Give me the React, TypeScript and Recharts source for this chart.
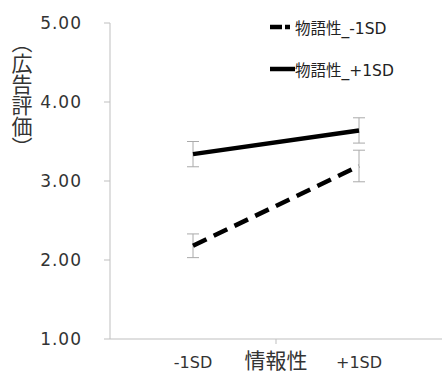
import React from 'react';
import { LineChart, Line, XAxis, YAxis, ErrorBar } from 'recharts';

const categories = ['-1SD', '+1SD'];
const xTitle = '情報性';
const yTitle = '（広告評価）';
const seriesNames = ['物語性_-1SD', '物語性_+1SD'];
const lowValues = [2.18, 3.19];
const lowErrors = [0.15, 0.2];
const highValues = [3.34, 3.64];
const highErrors = [0.16, 0.16];
const yTicks = [1, 2, 3, 4, 5];

const data = categories.map((c, i) => ({
  x: i + 0.5,
  cat: c,
  low: lowValues[i],
  lowErr: lowErrors[i],
  high: highValues[i],
  highErr: highErrors[i],
}));

const SANS = '"DejaVu Sans", Verdana, sans-serif';
const CJK = '"Noto Sans CJK JP", sans-serif';
const MIXED = '"DejaVu Sans", "Noto Sans CJK JP", sans-serif';

const XTick = (props: any) => {
  const { x, y, payload } = props;
  const v = payload.value;
  if (v === 1) {
    return (
      <g>
        <line x1={x} x2={x} y1={y} y2={y + 5} stroke="#bfbfbf" />
        <text x={x} y={y + 29} textAnchor="middle" fontSize={21} fill="#333" fontFamily={CJK}>
          {xTitle}
        </text>
      </g>
    );
  }
  const label = categories[Math.round(v - 0.5)];
  return (
    <text x={x} y={y + 29} textAnchor="middle" fontSize={16} fill="#333" fontFamily={SANS}>
      {label}
    </text>
  );
};

const LegendBox = () => (
  <div
    style={{
      position: 'absolute',
      left: 268,
      top: 17,
      fontFamily: MIXED,
      fontSize: 15.5,
      color: '#222',
      whiteSpace: 'nowrap',
    }}
  >
    <div style={{ display: 'flex', alignItems: 'center', height: 20 }}>
      <svg width={27} height={10}>
        <line x1={2} x2={22} y1={5} y2={5} stroke="#000" strokeWidth={4.5} strokeDasharray="12 3" />
      </svg>
      <span>{seriesNames[0]}</span>
    </div>
    <div style={{ display: 'flex', alignItems: 'center', height: 20, marginTop: 22 }}>
      <svg width={27} height={10}>
        <line x1={2} x2={27} y1={5} y2={5} stroke="#000" strokeWidth={4.5} />
      </svg>
      <span>{seriesNames[1]}</span>
    </div>
  </div>
);

export default function App() {
  return (
    <div style={{ position: 'absolute', left: 0, top: 0, width: 442, height: 374, background: '#fff' }}>
      <LineChart width={442} height={374} data={data} margin={{ top: 23, right: 0, bottom: 0, left: 0 }}>
        <XAxis
          type="number"
          dataKey="x"
          domain={[0, 2]}
          ticks={[0.5, 1, 1.5]}
          tickLine={false}
          tickSize={0}
          tickMargin={0}
          stroke="#bfbfbf"
          tick={<XTick />}
          height={35}
          interval={0}
        />
        <YAxis
          type="number"
          domain={[1, 5]}
          ticks={yTicks}
          width={110}
          tickSize={6}
          tickMargin={22}
          stroke="#bfbfbf"
          tickFormatter={(v: number) => v.toFixed(2)}
          tick={{ fill: '#333', fontSize: 17, fontFamily: SANS, letterSpacing: 1 }}
          interval={0}
        />
        <Line
          dataKey="low"
          name={seriesNames[0]}
          stroke="#000"
          strokeWidth={4.5}
          strokeDasharray="15 8"
          dot={false}
          isAnimationActive={false}
        >
          <ErrorBar dataKey="lowErr" width={6} stroke="#aaa" strokeWidth={1} direction="y" />
        </Line>
        <Line
          dataKey="high"
          name={seriesNames[1]}
          stroke="#000"
          strokeWidth={4.5}
          dot={false}
          isAnimationActive={false}
        >
          <ErrorBar dataKey="highErr" width={6} stroke="#aaa" strokeWidth={1} direction="y" />
        </Line>
      </LineChart>
      <LegendBox />
      <div
        style={{
          position: 'absolute',
          left: 11,
          top: 42,
          writingMode: 'vertical-rl',
          fontFamily: CJK,
          fontSize: 21,
          color: '#333',
          lineHeight: '22px',
          fontFeatureSettings: '"vhal" 1',
        }}
      >
        {yTitle}
      </div>
    </div>
  );
}
